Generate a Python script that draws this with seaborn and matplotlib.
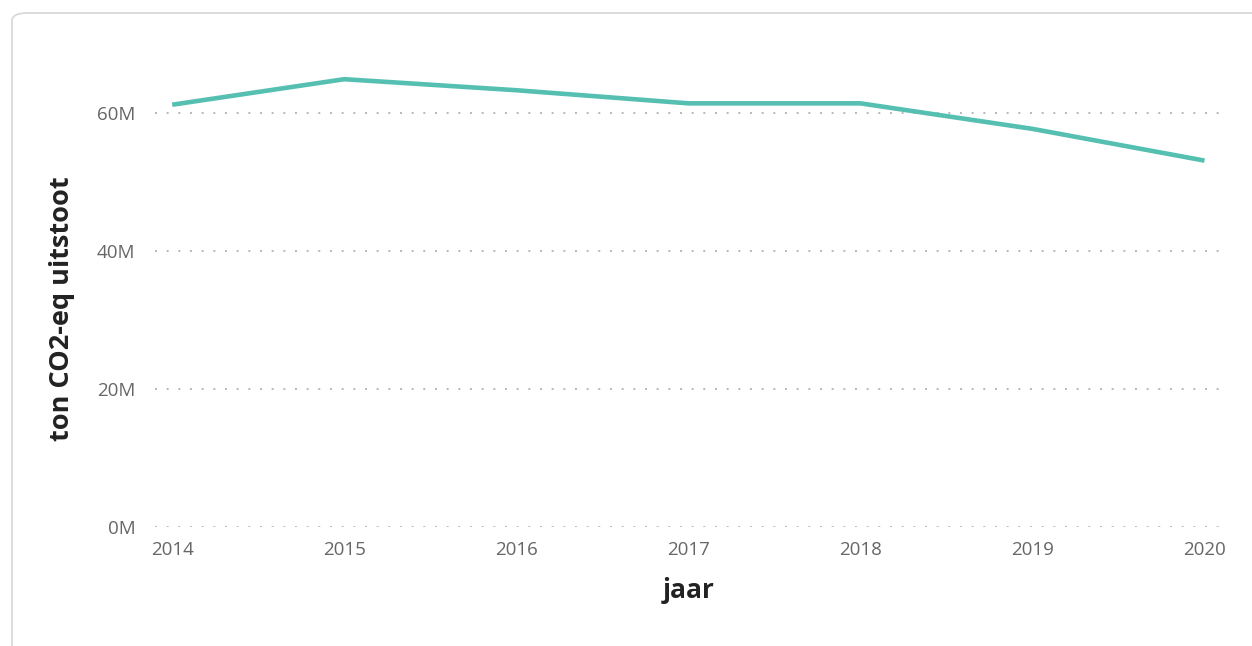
import matplotlib
matplotlib.use("Agg")
import matplotlib.pyplot as plt
from matplotlib.ticker import FuncFormatter, FixedLocator
from matplotlib.patches import FancyBboxPatch
import seaborn as sns
import pandas as pd

years = [2014, 2015, 2016, 2017, 2018, 2019, 2020]
emissions = [61.2e6, 64.9e6, 63.3e6, 61.4e6, 61.4e6, 57.7e6, 53.1e6]
y_ticks = [0, 20e6, 40e6, 60e6]

df = pd.DataFrame({"jaar": years, "uitstoot": emissions})

sns.set_theme(style="white")
plt.rcParams["font.family"] = ["Open Sans", "DejaVu Sans"]

W, H = 1252, 646
fig = plt.figure(figsize=(W / 100, H / 100), dpi=100)
fig.patch.set_facecolor("white")

# card outline running off the right and bottom edges
card = FancyBboxPatch((12 / W, -0.1), 1.2, (H - 13) / H + 0.1,
                      boxstyle="round,pad=0,rounding_size=0.012",
                      transform=fig.transFigure, facecolor="none",
                      edgecolor="#d9d9d9", linewidth=1.3, zorder=-1)
fig.patches.append(card)

ax = fig.add_axes([155 / W, 1 - 527 / H, (1220 - 155) / W, (527 - 45) / H])
ax.set_facecolor("none")

sns.lineplot(data=df, x="jaar", y="uitstoot", ax=ax, color="#55bfb1",
             linewidth=3.3, solid_capstyle="butt")

ax.set_xlim(2013.9, 2020.09)
ax.set_ylim(0, 60e6 * (527 - 45) / 414)
ax.yaxis.set_major_locator(FixedLocator(y_ticks))
ax.yaxis.set_major_formatter(FuncFormatter(lambda v, p: f"{v / 1e6:.0f}M"))
ax.set_xticks(years)
ax.set_xticklabels([str(y) for y in years])

ax.grid(axis="y", linestyle=(0, (1, 5)), color="#b8b8b8", linewidth=1.4)
ax.grid(axis="x", visible=False)
for s in ax.spines.values():
    s.set_visible(False)

ax.tick_params(axis="both", length=0, labelsize=13.5, labelcolor="#666666")
ax.tick_params(axis="y", pad=14)
ax.tick_params(axis="x", pad=10)

ax.set_xlabel("")
ax.set_ylabel("")
fig.text(689 / W, 1 - 590 / H, "jaar", fontsize=19, fontweight="bold",
         color="#222222", ha="center", va="center")
fig.text(62 / W, 1 - 309 / H, "ton CO2-eq uitstoot", fontsize=19.5,
         fontweight="bold", color="#222222", ha="center", va="center",
         rotation=90)

fig.savefig("out.png", dpi=100)
